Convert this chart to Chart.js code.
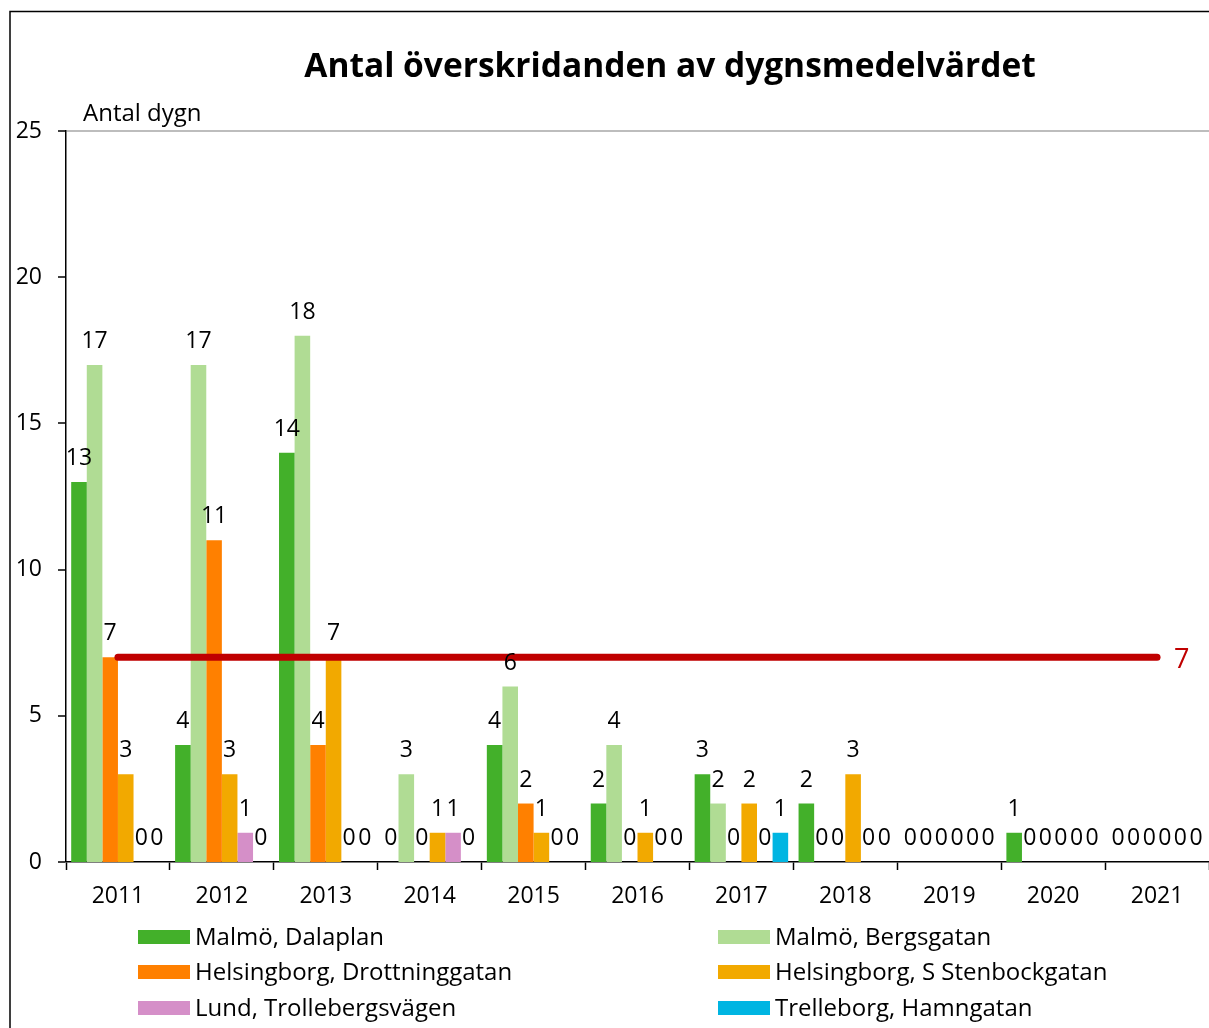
<!DOCTYPE html>
<html>
<head>
<meta charset="utf-8">
<script src="https://cdn.jsdelivr.net/npm/chart.js@4.4.1/dist/chart.umd.min.js"></script>
<style>
  html, body { margin: 0; padding: 0; background: #fff; }
  #wrap { width: 1209px; height: 1028px; position: relative; }
</style>
</head>
<body>
<div id="wrap"><canvas id="c" width="1209" height="1028"></canvas></div>
<script>
const years = ['2011','2012','2013','2014','2015','2016','2017','2018','2019','2020','2021'];
const dalaplan         = [13, 4, 14, 0, 4, 2, 3, 2, 0, 1, 0];
const bergsgatan       = [17, 17, 18, 3, 6, 4, 2, 0, 0, 0, 0];
const drottninggatan   = [7, 11, 4, 0, 2, 0, 0, 0, 0, 0, 0];
const stenbockgatan    = [3, 3, 7, 1, 1, 1, 2, 3, 0, 0, 0];
const trollebergsvagen = [0, 1, 0, 1, 0, 0, 0, 0, 0, 0, 0];
const hamngatan        = [0, 0, 0, 0, 0, 0, 1, 0, 0, 0, 0];
const limitLine        = [7, 7, 7, 7, 7, 7, 7, 7, 7, 7, 7];
const seriesNames = ['Malmö, Dalaplan','Malmö, Bergsgatan','Helsingborg, Drottninggatan','Helsingborg, S Stenbockgatan','Lund, Trollebergsvägen','Trelleborg, Hamngatan'];
const yTicks = [0, 5, 10, 15, 20, 25];
const titleText = 'Antal överskridanden av dygnsmedelvärdet';
const yTitle = 'Antal dygn';

const colors = ['#43B02A','#B0DC94','#FF8000','#F2A900','#D58FC8','#00B5E2'];
const FONT = '"Open Sans", "Noto Sans", sans-serif';
const seriesData = [dalaplan, bergsgatan, drottninggatan, stenbockgatan, trollebergsvagen, hamngatan];

const datasets = [{
  type: 'line',
  label: 'limit',
  data: limitLine,
  borderColor: '#C00000',
  borderWidth: 7,
  borderCapStyle: 'round',
  pointRadius: 0,
  fill: false,
  order: 0
}];
seriesData.forEach((d, i) => datasets.push({
  type: 'bar',
  label: seriesNames[i],
  data: d,
  backgroundColor: colors[i],
  borderWidth: 0,
  categoryPercentage: 0.9,
  barPercentage: 1.0,
  order: 1
}));

const decor = {
  id: 'decor',
  beforeDraw(chart) {
    const ctx = chart.ctx;
    ctx.save();
    ctx.fillStyle = '#fff';
    ctx.fillRect(0, 0, chart.width, chart.height);
    ctx.strokeStyle = '#000';
    ctx.lineWidth = 1.5;
    ctx.strokeRect(10, 11.5, 1400, 1200);
    ctx.fillStyle = '#000';
    ctx.font = 'bold 33.5px ' + FONT;
    ctx.textAlign = 'center';
    ctx.textBaseline = 'alphabetic';
    ctx.fillText(titleText, 670, 77);
    ctx.font = '24px ' + FONT;
    ctx.textAlign = 'left';
    ctx.fillText(yTitle, 83, 121);
    ctx.restore();
  },
  afterDatasetsDraw(chart) {
    const ctx = chart.ctx;
    ctx.save();
    ctx.font = '23px ' + FONT;
    ctx.textAlign = 'center';
    ctx.textBaseline = 'alphabetic';
    ctx.fillStyle = '#000';
    chart.data.datasets.forEach((ds, di) => {
      if (ds.type !== 'bar') return;
      const meta = chart.getDatasetMeta(di);
      meta.data.forEach((el, i) => {
        ctx.fillText(String(ds.data[i]), el.x, el.y - 17);
      });
    });
    // limit label
    const lm = chart.getDatasetMeta(0);
    const last = lm.data[lm.data.length - 1];
    ctx.fillStyle = '#C00000';
    ctx.font = '27px ' + FONT;
    ctx.textAlign = 'left';
    ctx.fillText(String(limitLine[limitLine.length - 1]), last.x + 17, last.y + 11);
    // legend
    ctx.font = '24px ' + FONT;
    ctx.fillStyle = '#000';
    ctx.textBaseline = 'middle';
    const cols = [138, 718];
    const rows = [937, 972, 1008];
    seriesNames.forEach((n, i) => {
      const x = cols[i % 2], y = rows[Math.floor(i / 2)];
      ctx.fillStyle = colors[i];
      ctx.fillRect(x, y - 7, 52, 14);
      ctx.fillStyle = '#000';
      ctx.fillText(n, x + 57, y + 1);
    });
    ctx.restore();
  }
};

new Chart(document.getElementById('c'), {
  data: { labels: years, datasets },
  options: {
    responsive: false,
    animation: false,
    layout: { padding: { top: 131, right: 0, bottom: 0, left: 0 } },
    plugins: { legend: { display: false }, tooltip: { enabled: false }, title: { display: false } },
    scales: {
      x: {
        offset: true,
        grid: { offset: true, drawOnChartArea: false, tickLength: 8, tickColor: '#000', tickWidth: 1.5 },
        border: { color: '#000', width: 1.5 },
        ticks: { color: '#000', font: { family: FONT, size: 23 }, padding: 13, maxRotation: 0 },
        afterFit(s) { s.height = 166; }
      },
      y: {
        min: 0, max: 25,
        afterBuildTicks(s) { s.ticks = yTicks.map(v => ({ value: v })); },
        grid: {
          drawOnChartArea: true,
          color: c => (c.tick && c.tick.value === 25 ? '#BDBDBD' : 'rgba(0,0,0,0)'),
          lineWidth: c => (c.tick && c.tick.value === 25 ? 2 : 0),
          tickLength: 8, tickColor: '#000', tickWidth: 1.5
        },
        border: { color: '#000', width: 1.5 },
        ticks: { color: '#000', font: { family: FONT, size: 23 }, padding: 16 },
        afterFit(s) { s.width = 66; }
      }
    }
  },
  plugins: [decor]
});
</script>
</body>
</html>
